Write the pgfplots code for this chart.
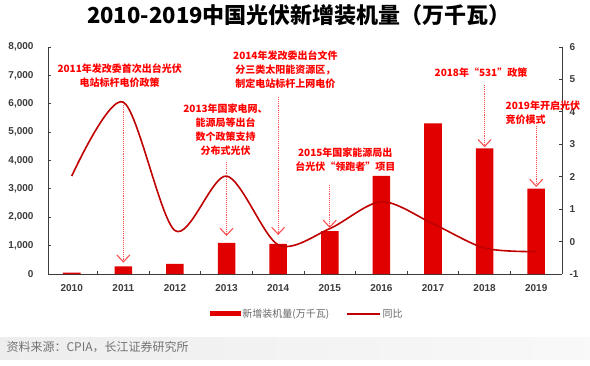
\documentclass[border=0pt]{standalone}
\usepackage{pgfplots}
\pgfplotsset{compat=1.18}
\usepackage{fontspec}
\setmainfont{Liberation Sans}
\newfontfamily\cjk{Noto Sans CJK SC}
\usetikzlibrary{arrows.meta}
\definecolor{barred}{RGB}{224,0,0}
\definecolor{linered}{RGB}{192,0,0}
\definecolor{annred}{RGB}{255,0,0}
\definecolor{arrred}{RGB}{255,80,80}
\definecolor{axgray}{RGB}{60,60,60}

\pgfplotsset{
  common/.style={
    at={(48pt,91pt)}, anchor=south west, scale only axis,
    width=514pt, height=227pt,
    xmin=-0.46, xmax=9.5,
    axis line style={-, axgray, line width=0.8pt},
    tick style={axgray, line width=0.8pt},
    tick align=inside,
    major tick length=3pt,
    clip=false,
    /pgf/number format/assume math mode=true,
    ticklabel style={font=\bfseries\fontsize{10}{12}\selectfont, text=axgray},
  },
}
\tikzset{
  ann/.style={text=annred, font=\cjk\bfseries\fontsize{10}{14}\selectfont, align=center},
  arr/.style={arrred, line width=1.1pt, densely dotted, -{Straight Barb[length=7pt,width=13pt,line width=1.1pt]}},
}

\begin{document}
\begin{tikzpicture}[x=1pt,y=1pt]
\path[use as bounding box] (0,0) rectangle (590,365);
\shade[left color=gray!14, right color=gray!5] (0,6) rectangle (590,28);
\node[anchor=west, text=black!55, font=\cjk\fontsize{12}{14}\selectfont] at (3,18) {资料来源：CPIA，长江证券研究所};
\node[font=\cjk\bfseries\fontsize{22}{26}\selectfont] at (299,350) {2010-2019中国光伏新增装机量（万千瓦）};

\begin{axis}[common,
  ymin=0, ymax=8000,
  axis x line*=bottom, axis y line*=left,
  xtick={0,...,9},
  xticklabels={2010,2011,2012,2013,2014,2015,2016,2017,2018,2019},
  x tick label style={yshift=-7pt},
  major x tick style={draw=none},
  minor xtick={0.5,1.5,2.5,3.5,4.5,5.5,6.5,7.5,8.5},
  minor tick length=3pt,
  minor x tick style={axgray, line width=0.8pt},
  ytick={0,1000,...,8000},
  scaled y ticks=false,
  yticklabel style={/pgf/number format/.cd, 1000 sep={,}, /tikz/.cd, xshift=-11pt},
  legend columns=2,
  legend style={at={(0.504,-0.176)}, anchor=center, draw=none, fill=none,
    font=\cjk\fontsize{10}{12}\selectfont, text=black!60,
    /tikz/every even column/.append style={column sep=16pt},
    nodes={inner sep=1.5pt}},
]
\addplot[ybar, bar width=0.34, fill=barred, draw=none,
  legend image code/.code={\fill[barred] (0pt,-2.5pt) rectangle (31pt,2.5pt);}]
  coordinates {(0,50) (1,270) (2,360) (3,1095) (4,1060) (5,1513) (6,3454) (7,5306) (8,4426) (9,3011)};
\addlegendentry{新增装机量(万千瓦)}
\addlegendimage{legend image code/.code={\draw[linered, line width=1.5pt] (0pt,0pt) -- (33pt,0pt);}}
\addlegendentry{同比}
\end{axis}

\begin{axis}[common,
  ymin=-1, ymax=6,
  axis y line*=right, axis x line=none,
  ytick={-1,0,...,6},
  yticklabel style={xshift=4pt},
]
\addplot[linered, line width=1.6pt, smooth]
  coordinates {(0,2.02) (1,4.3) (2,0.34) (3,2.02) (4,-0.1) (5,0.4) (6,1.23) (7,0.55) (8,-0.2) (9,-0.31)};

\node[ann] at (0.93,5.121) {2011年发改委首次出台光伏\\电站标杆电价政策};
\draw[arr] (1,4.273) -- (1,-0.652);

\node[ann] at (2.98,3.44) {2013年国家电网、\\能源局等出台\\数个政策支持\\分布式光伏};
\draw[arr] (3,2.454) -- (3,0.172);

\node[ann] at (4.14,5.291) {2014年发改委出台文件\\分三类太阳能资源区，\\制定电站标杆上网电价};
\draw[arr] (4,4.458) -- (4,0.203);

\node[ann] at (5.30,2.537) {2015年国家能源局出\\台光伏“领跑者”项目};
\draw[arr] (5,1.744) -- (5,0.418);

\node[ann] at (7.93,5.22) {2018年“531”政策};
\draw[arr] (8,4.828) -- (8,2.907);

\node[ann, anchor=west, align=left] at (8.34,3.98) {2019年开启光伏\\竞价模式};
\draw[arr] (9,3.564) -- (9,1.683);
\end{axis}
\end{tikzpicture}
\end{document}
